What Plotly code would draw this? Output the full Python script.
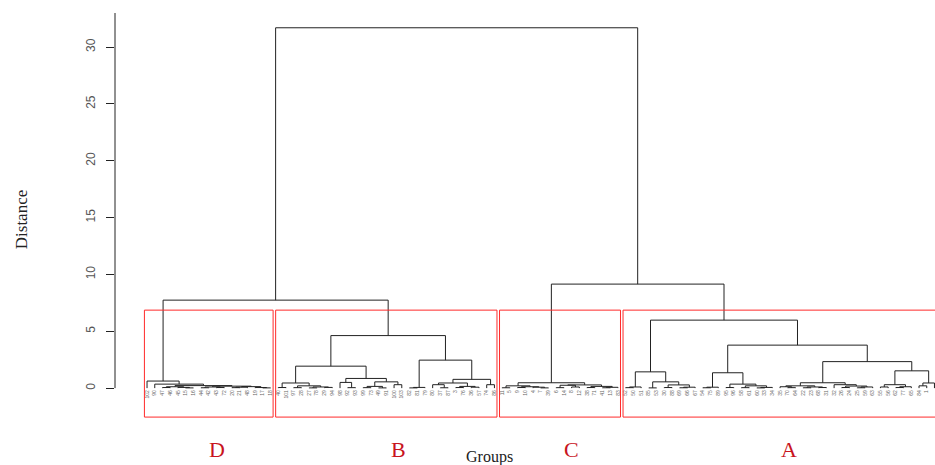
import plotly.graph_objects as go

# Hierarchical clustering tree, one nested list per group.
# A node is [left, right, merge_height]; a leaf is the sample number.
tree_D = [102, [90, [[[47, 46, 0.05], [45, [15, 16, 0.02], 0.06], 0.12],
                     [[[44, 42, 0.03], [43, 72, 0.05], 0.10],
                      [[[20, 21, 0.04], 48, 0.08], [19, [17, 18, 0.02], 0.05], 0.13], 0.17],
                     0.22], 0.35], 0.62]

tree_B = [
    [[[40, 101, 0.05], [[97, 28, 0.04], [[27, 78, 0.02], [29, 94, 0.06], 0.10], 0.20], 0.45],
     [[98, [92, 93, 0.04], 0.50], [[[99, 73, 0.04], [49, 91, 0.02], 0.15], [100, 103, 0.30], 0.55], 0.85],
     1.93],
    [[[82, 81, 0.02], 79, 0.06],
     [[[80, [37, 87, 0.03], 0.30], [[3, 76, 0.05], [36, 57, 0.08], 0.15], 0.45], [74, 86, 0.30], 0.77],
     2.46],
    4.62]

tree_C = [[[11, 5, 0.03], [[9, 10, 0.05], [4, [7, 39, 0.02], 0.08], 0.12], 0.20],
          [[[6, 14, 0.04], [8, 12, 0.10], 0.25], [[38, 71, 0.05], [[41, 13, 0.03], 83, 0.07], 0.15], 0.28],
          0.47]

tree_A = [
    [[[52, 50, 0.04], 51, 0.10], [[85, 53, 0.02], [[30, 88, 0.05], [[69, 66, 0.03], 67, 0.08], 0.28], 0.55], 1.43],
    [
        [[[54, 75, 0.03], 89, 0.08], [[95, 96, 0.05], [[58, 61, 0.04], [[60, 33, 0.02], 34, 0.06], 0.20], 0.35], 1.35],
        [
            [[[35, [70, 64, 0.04], 0.12], [[22, 23, 0.03], [68, 31, 0.05], 0.10], 0.20],
             [32, [[26, 24, 0.05], [[25, 59, 0.03], 63, 0.10], 0.18], 0.30], 0.47],
            [[[55, 56, 0.10], [[62, 77, 0.05], 65, 0.12], 0.30], [[84, 1, 0.20], 2, 0.45], 1.52],
            2.33],
        3.78],
    5.98]

# Heights of the upper joins: D+B, C+A and the root
height_DB = 7.74
height_CA = 9.15
height_root = 31.7

group_names = ["D", "B", "C", "A"]
group_trees = [tree_D, tree_B, tree_C, tree_A]
group_label_x = [10.1, 33.6, 56.0, 84.2]
n_clusters = 4
y_ticks = [0, 5, 10, 15, 20, 25, 30]

full_tree = [[tree_D, tree_B, height_DB], [tree_C, tree_A, height_CA], height_root]

leaf_order = []
segments = []
merge_heights = []


def place(node):
    if isinstance(node, int):
        leaf_order.append(node)
        return float(len(leaf_order)), 0.0
    left, right, h = node
    xl, hl = place(left)
    xr, hr = place(right)
    segments.append(((xl, hl), (xl, h), (xr, h), (xr, hr)))
    merge_heights.append(h)
    return (xl + xr) / 2.0, h


place(full_tree)


def count_leaves(node):
    if isinstance(node, int):
        return 1
    return count_leaves(node[0]) + count_leaves(node[1])


xs, ys = [], []
for seg in segments:
    for px, py in seg:
        xs.append(px)
        ys.append(py)
    xs.append(None)
    ys.append(None)

# axis ranges
y_min, y_max = -2.63, 33.0
x_min, x_max = -3.15, 103.07
box_floor = -2.55

# cut at k clusters: box top halfway between the (k-1)-th and k-th highest merges
hs = sorted(merge_heights, reverse=True)
box_top = (hs[n_clusters - 2] + hs[n_clusters - 1]) / 2.0


def to_paper_y(v):
    return (v - y_min) / (y_max - y_min)


fig = go.Figure()
fig.add_trace(go.Scatter(x=xs, y=ys, mode="lines",
                         line=dict(color="#222222", width=1),
                         hoverinfo="skip", showlegend=False))

shapes = []
start = 0
for tree in group_trees:
    n = count_leaves(tree)
    shapes.append(dict(type="rect", xref="x", yref="y",
                       x0=start + 0.66, x1=start + n + 0.33,
                       y0=box_floor, y1=box_top,
                       line=dict(color="#ff2a2a", width=1),
                       fillcolor="rgba(0,0,0,0)"))
    start += n

# vertical axis line
shapes.append(dict(type="line", xref="paper", yref="y", x0=0, x1=0,
                   y0=0, y1=y_max, line=dict(color="#222222", width=1)))

annotations = []
for name, gx in zip(group_names, group_label_x):
    annotations.append(dict(text=name, x=gx, xref="x", y=to_paper_y(-5.37), yref="paper",
                            showarrow=False, xanchor="center", yanchor="middle",
                            font=dict(family="Liberation Serif", size=22, color="#c8141e")))
annotations.append(dict(text="Groups", x=45.35, xref="x", y=to_paper_y(-6.1), yref="paper",
                        showarrow=False, xanchor="center", yanchor="middle",
                        font=dict(family="Liberation Serif", size=16, color="#222222")))
annotations.append(dict(text="Distance", x=-0.113, xref="paper", y=to_paper_y(14.8), yref="paper",
                        showarrow=False, textangle=-90, xanchor="center", yanchor="middle",
                        font=dict(family="Liberation Serif", size=17, color="#222222")))

fig.update_layout(
    width=935, height=465,
    margin=dict(l=115, r=0, t=13, b=47),
    paper_bgcolor="white", plot_bgcolor="white",
    shapes=shapes, annotations=annotations,
    showlegend=False,
    xaxis=dict(range=[x_min, x_max], showgrid=False, zeroline=False, showline=False,
               anchor="free", position=to_paper_y(0),
               tickmode="array", tickvals=list(range(1, len(leaf_order) + 1)),
               ticktext=[str(v) for v in leaf_order], tickangle=-90, ticks="",
               tickfont=dict(family="Liberation Sans", size=5, color="#666666")),
    yaxis=dict(range=[y_min, y_max], showgrid=False, zeroline=False, showline=False,
               tickmode="array", tickvals=y_ticks, tickangle=-90,
               ticks="outside", ticklen=8, tickwidth=1, tickcolor="#222222",
               ticklabelstandoff=6,
               tickfont=dict(family="Liberation Sans", size=12, color="#555555")),
)

fig.write_html("out.html")
